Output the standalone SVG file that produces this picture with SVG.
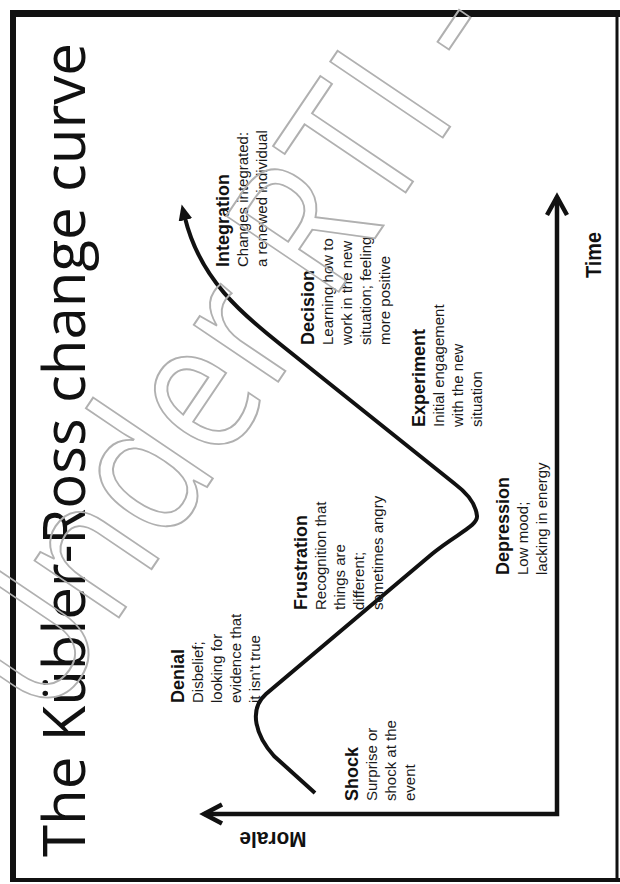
<svg xmlns="http://www.w3.org/2000/svg" width="620" height="884" viewBox="0 0 620 884">
  <defs>
    <style>
      .title { font-family: "Open Sans", "Liberation Sans", sans-serif; font-size: 59px; fill: #111; }
      .stage-title { font-family: "Liberation Sans", Arial, sans-serif; font-weight: bold; font-size: 18px; fill: #111; }
      .stage-desc { font-family: "Liberation Sans", Arial, sans-serif; font-size: 15px; fill: #1a1a1a; }
      .axis-label { font-family: "Liberation Sans", Arial, sans-serif; font-weight: bold; font-size: 22px; fill: #111; }
      .axis { stroke: #111; stroke-width: 4.5; fill: none; stroke-linejoin: miter; }
      .chevron { stroke: #111; stroke-width: 4.5; fill: none; stroke-linejoin: miter; stroke-linecap: butt; }
      .curve { stroke: #111; stroke-width: 4; fill: none; stroke-linecap: butt; }
      .frame { stroke: #111; fill: none; }
      .watermark { font-family: "Open Sans", "Liberation Sans", sans-serif; font-size: 190px; fill: none; stroke: #b0b0b0; stroke-width: 2; }
    </style>
    <marker id="curveHead" markerUnits="userSpaceOnUse" markerWidth="16" markerHeight="14" viewBox="0 0 16 14" refX="2" refY="7" orient="auto">
      <path d="M0,0 L16,7 L0,14 z" fill="#111"/>
    </marker>
  </defs>

  <rect x="0" y="0" width="620" height="884" fill="#ffffff"/>

  <g id="frame">
    <line class="frame" x1="13" y1="10" x2="13" y2="882" stroke-width="6"/>
    <line class="frame" x1="10" y1="13.5" x2="620" y2="13.5" stroke-width="7"/>
    <line class="frame" x1="10" y1="880" x2="620" y2="880" stroke-width="4"/>
    <line class="frame" x1="617" y1="10" x2="617" y2="882" stroke-width="3"/>
  </g>

  <g id="page" transform="translate(0,884) rotate(-90)">
    <g id="title">
      <text class="title" x="27" y="85" textLength="814" lengthAdjust="spacingAndGlyphs">The Kübler-Ross change curve</text>
    </g>

    <g id="connectors">
      <path id="axes" class="axis" d="M70,204 L70,557 L687,557"/>
      <path id="time-arrow" class="chevron" d="M669,547 L687,557 L669,567"/>
      <path id="morale-arrow" class="chevron" d="M60.5,222 L70,204 L79.5,222"/>
      <path id="change-curve" class="curve" marker-end="url(#curveHead)" d="M91,315 L128,274 C148,256 174,248 190,266 L330,432 C350,456 358,478 368,477 C378,476 388,471 400,455 L540,280 C570,242 605,200 666,185"/>
    </g>

    <g id="axis-time">
      <text class="axis-label" x="606" y="601" textLength="46" lengthAdjust="spacingAndGlyphs">Time</text>
    </g>
    <g id="axis-morale">
      <text class="axis-label" transform="translate(52,273) rotate(-90)" x="0" y="0" text-anchor="middle" textLength="67" lengthAdjust="spacingAndGlyphs">Morale</text>
    </g>

    <g id="stage-shock">
      <text class="stage-title" x="83" y="358">Shock</text>
      <text class="stage-desc" x="83" y="377">Surprise or</text>
      <text class="stage-desc" x="83" y="396">shock at the</text>
      <text class="stage-desc" x="83" y="415">event</text>
    </g>

    <g id="stage-denial">
      <text class="stage-title" x="181" y="184">Denial</text>
      <text class="stage-desc" x="181" y="203">Disbelief;</text>
      <text class="stage-desc" x="181" y="222">looking for</text>
      <text class="stage-desc" x="181" y="241">evidence that</text>
      <text class="stage-desc" x="181" y="260">it isn't true</text>
    </g>

    <g id="stage-frustration">
      <text class="stage-title" x="274" y="307">Frustration</text>
      <text class="stage-desc" x="274" y="326">Recognition that</text>
      <text class="stage-desc" x="274" y="345">things are</text>
      <text class="stage-desc" x="274" y="364">different;</text>
      <text class="stage-desc" x="274" y="383">sometimes angry</text>
    </g>

    <g id="stage-depression">
      <text class="stage-title" x="309" y="509">Depression</text>
      <text class="stage-desc" x="309" y="528">Low mood;</text>
      <text class="stage-desc" x="309" y="547">lacking in energy</text>
    </g>

    <g id="stage-experiment">
      <text class="stage-title" x="457" y="425">Experiment</text>
      <text class="stage-desc" x="457" y="444">Initial engagement</text>
      <text class="stage-desc" x="457" y="463">with the new</text>
      <text class="stage-desc" x="457" y="482">situation</text>
    </g>

    <g id="stage-decision">
      <text class="stage-title" x="539" y="314">Decision</text>
      <text class="stage-desc" x="539" y="333">Learning how to</text>
      <text class="stage-desc" x="539" y="352">work in the new</text>
      <text class="stage-desc" x="539" y="371">situation; feeling</text>
      <text class="stage-desc" x="539" y="390">more positive</text>
    </g>

    <g id="stage-integration">
      <text class="stage-title" x="617" y="229">Integration</text>
      <text class="stage-desc" x="617" y="248">Changes integrated:</text>
      <text class="stage-desc" x="617" y="267">a renewed individual</text>
    </g>
  </g>

  <g id="watermark">
    <text class="watermark" transform="translate(46.4,725) rotate(-56)" x="0" y="0" textLength="830" lengthAdjust="spacingAndGlyphs">Under RTI -</text>
  </g>
</svg>
